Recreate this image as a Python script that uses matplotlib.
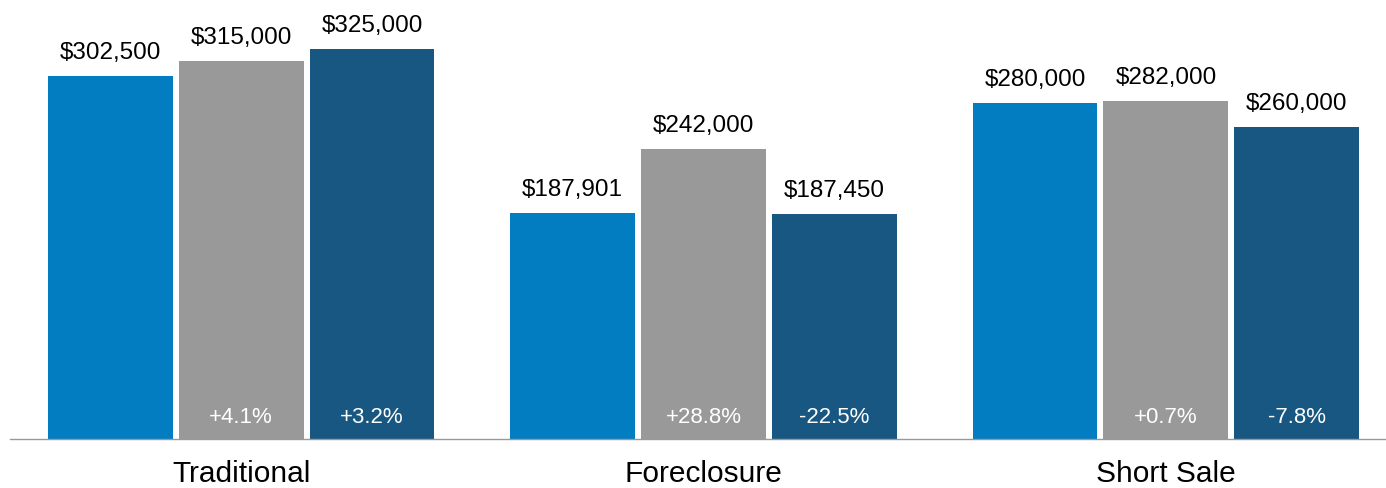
import numpy as np
import matplotlib.pyplot as plt

plt.rcParams['font.family'] = ['Liberation Sans', 'DejaVu Sans']

categories = ["Traditional", "Foreclosure", "Short Sale"]
series_a = [302500, 187901, 280000]
series_b = [315000, 242000, 282000]
series_c = [325000, 187450, 260000]
change_b = ["+4.1%", "+28.8%", "+0.7%"]
change_c = ["+3.2%", "-22.5%", "-7.8%"]

colors = ["#037dc2", "#999999", "#185781"]

fig = plt.figure(figsize=(13.86, 4.88), dpi=100)
ax = fig.add_axes([10 / 1386, 1 - 439 / 488, 1376 / 1386, 439 / 488])

x = np.arange(len(categories))
w = 0.27
off = 0.283

for i, (vals, col) in enumerate(zip([series_a, series_b, series_c], colors)):
    pos = x + (i - 1) * off
    ax.bar(pos, vals, width=w, color=col)
    for p, v in zip(pos, vals):
        ax.text(p, v + 10000, "${:,}".format(v), ha='center', va='bottom',
                fontsize=17.5, color='black')

for i, (labels) in enumerate([change_b, change_c]):
    pos = x + i * off
    for p, t in zip(pos, labels):
        ax.text(p, 18000, t, ha='center', va='center', fontsize=16,
                color='white')

ax.set_xlim(-0.5, 2.476)
ax.set_ylim(0, 365800)
for s in ['top', 'right', 'left']:
    ax.spines[s].set_visible(False)
ax.spines['bottom'].set_color('#999999')
ax.spines['bottom'].set_linewidth(1)
ax.set_yticks([])
ax.set_xticks(x)
ax.set_xticklabels(categories, fontsize=21.5)
ax.tick_params(axis='x', length=0, pad=15)

fig.savefig("out.png", dpi=100)
